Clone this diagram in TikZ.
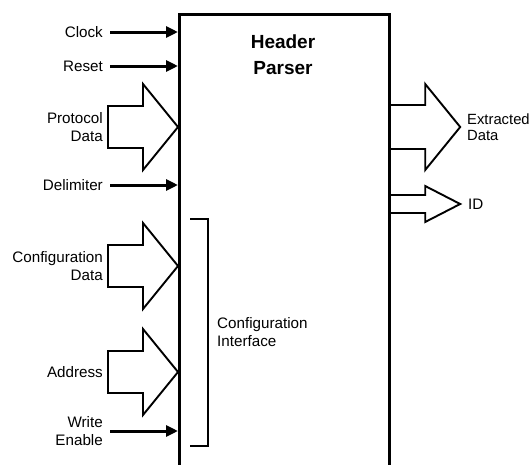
\documentclass[tikz,border=0pt]{standalone}
\usepackage{fontspec}
\setmainfont{Liberation Sans}
\usetikzlibrary{arrows.meta,positioning,calc}

\tikzset{
  lbl/.style={font=\fontsize{15.2}{18.5}\selectfont, inner sep=0pt},
  box/.style={draw, line width=3.2pt},
  sig/.style={line width=3pt, -{Triangle[length=12pt,width=11pt]}},
  bus/.style={line width=1.9pt, line join=miter},
}

\begin{document}
\begin{tikzpicture}[x=1pt, y=-1pt]
  \useasboundingbox (0,0) rectangle (531,464);
  \clip (0,0) rectangle (531,464);

  % Parser block, runs off the bottom
  \node[box, anchor=north west, minimum width=210pt, minimum height=480pt] (parser) at (178,13) {};
  \node[font=\bfseries\fontsize{19}{26}\selectfont, align=center] (title) at (283,55) {Header\\Parser};

  % Inputs
  \node[lbl, anchor=east] (clk) at (103,32) {Clock};
  \node[lbl, anchor=east] (rst) at (103,66) {Reset};
  \node[lbl, anchor=east, align=right] (proto) at (103,127) {Protocol\\Data};
  \node[lbl, anchor=east] (delim) at (103,185) {Delimiter};
  \node[lbl, anchor=east, align=right] (cfgdata) at (103,266) {Configuration\\Data};
  \node[lbl, anchor=east] (addr) at (103,372) {Address};
  \node[lbl, anchor=east, align=right] (wren) at (103,431) {Write\\Enable};

  \foreach \s in {clk,rst,delim,wren}
    \draw[sig] ([xshift=7pt]\s.east) -- (\s.east -| parser.west);

  \foreach \s in {proto,cfgdata,addr}
    \draw[bus] (\s.east -| parser.west) -- ++(-35,-43) -- ++(0,22) -- ++(-35,0)
      -- ++(0,42) -- ++(35,0) -- ++(0,22) -- cycle;

  % Outputs
  \node[lbl, anchor=west, align=left, font=\fontsize{14.8}{15.5}\selectfont] (extr) at (467,127) {Extracted\\Data};
  \node[lbl, anchor=west] (id) at (468,204) {ID};

  \draw[bus] (extr.west -| parser.east) ++(0,-22) -- ++(34,0) -- ++(0,-21) -- ++(35,43)
    -- ++(-35,43) -- ++(0,-21) -- ++(-34,0);
  \draw[bus] (id.west -| parser.east) ++(0,-9) -- ++(34,0) -- ++(0,-9) -- ++(35,18)
    -- ++(-35,18) -- ++(0,-9) -- ++(-34,0);

  % Configuration interface bracket
  \draw[line width=2.6pt] (190,219) -- (208,219) -- (208,446) -- (190,446);
  \node[lbl, anchor=west, align=left] (cfgif) at (217,332) {Configuration\\Interface};
\end{tikzpicture}
\end{document}
